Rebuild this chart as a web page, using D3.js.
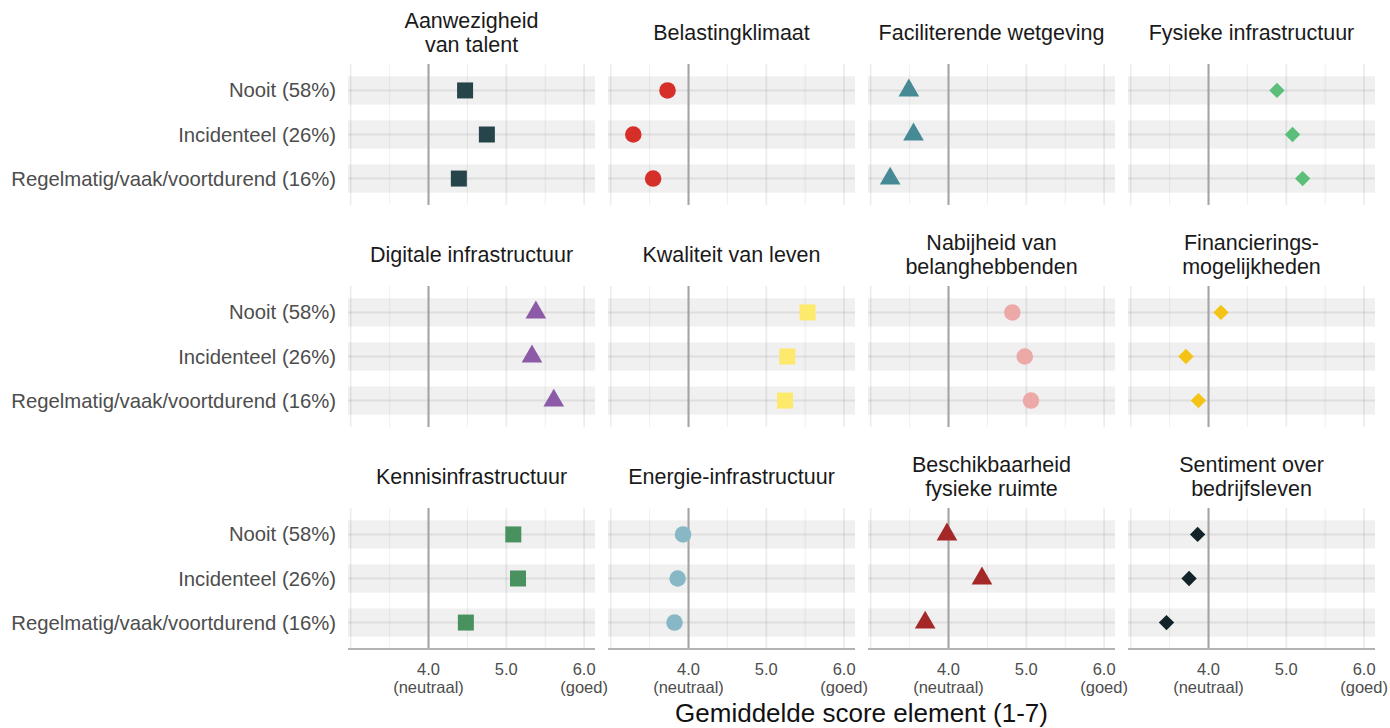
<!DOCTYPE html>
<html>
<head>
<meta charset="utf-8">
<script src="https://cdn.jsdelivr.net/npm/d3@7"></script>
<style>
  html, body { margin: 0; padding: 0; background: #fff; }
  svg { display: block; font-family: "Liberation Sans", Arial, sans-serif; }
</style>
</head>
<body>
<svg id="chart" width="1390" height="728"></svg>
<script>
// ---- data ----
const categories = ["Nooit (58%)", "Incidenteel (26%)", "Regelmatig/vaak/voortdurend (16%)"];
const elements = [
  "Aanwezigheid\nvan talent", "Belastingklimaat", "Faciliterende wetgeving", "Fysieke infrastructuur",
  "Digitale infrastructuur", "Kwaliteit van leven", "Nabijheid van\nbelanghebbenden", "Financierings-\nmogelijkheden",
  "Kennisinfrastructuur", "Energie-infrastructuur", "Beschikbaarheid\nfysieke ruimte", "Sentiment over\nbedrijfsleven"
];
const aanwezigheidVanTalent   = [4.47, 4.75, 4.39];
const belastingklimaat        = [3.73, 3.29, 3.545];
const faciliterendeWetgeving  = [3.49, 3.55, 3.25];
const fysiekeInfrastructuur   = [4.88, 5.08, 5.21];
const digitaleInfrastructuur  = [5.38, 5.33, 5.61];
const kwaliteitVanLeven       = [5.53, 5.27, 5.24];
const nabijheidBelanghebbenden= [4.82, 4.98, 5.06];
const financieringsmogelijkheden = [4.16, 3.71, 3.87];
const kennisinfrastructuur    = [5.09, 5.15, 4.48];
const energieInfrastructuur   = [3.93, 3.86, 3.82];
const beschikbaarheidRuimte   = [3.98, 4.43, 3.70];
const sentimentBedrijfsleven  = [3.86, 3.75, 3.46];
const seriesValues = [
  aanwezigheidVanTalent, belastingklimaat, faciliterendeWetgeving, fysiekeInfrastructuur,
  digitaleInfrastructuur, kwaliteitVanLeven, nabijheidBelanghebbenden, financieringsmogelijkheden,
  kennisinfrastructuur, energieInfrastructuur, beschikbaarheidRuimte, sentimentBedrijfsleven
];
const majorTicks = [3, 4, 5, 6];
const minorTicks = [3.5, 4.5, 5.5];
const tickLabels = [["4.0", "(neutraal)"], ["5.0", ""], ["6.0", "(goed)"]];
const labelledTicks = [4, 5, 6];
const xTitle = "Gemiddelde score element (1-7)";

// ---- styles ----
const colors = ["#25454b", "#d62f2a", "#468a96", "#5bbf7a",
                "#8c5ba8", "#fde96c", "#eda8a8", "#f5c316",
                "#4a9160", "#88b8c5", "#a52828", "#13232a"];
const shapes = ["square", "circle", "triangle", "diamond",
                "triangle", "square", "circle", "diamond",
                "square", "circle", "triangle", "diamond"];

// ---- layout ----
const svg = d3.select("#chart");
const colX0 = 348, colStep = 260, panelW = 247;
const rowY0 = 64, rowStep = 222, panelH = 141;

const x = d3.scaleLinear().domain([2.965, 6.14]).range([0, panelW]);
const y = d3.scalePoint().domain(categories).range([0, panelH]).padding(0.6);
const bandH = y.step() * 0.64;

function symbolPath(shape) {
  if (shape === "square") return d3.symbol(d3.symbolSquare, 256)();
  if (shape === "circle") return d3.symbol(d3.symbolCircle, 215)();
  if (shape === "triangle") return d3.symbol(d3.symbolTriangle, 185)();
  if (shape === "diamond") return d3.symbol(d3.symbolSquare, 118)();
}

elements.forEach((name, i) => {
  const col = i % 4, row = Math.floor(i / 4);
  const g = svg.append("g").attr("transform", `translate(${colX0 + col * colStep},${rowY0 + row * rowStep})`);

  // bands
  g.selectAll("rect.band").data(categories).join("rect")
    .attr("x", 0).attr("width", panelW)
    .attr("y", d => y(d) - bandH / 2).attr("height", bandH)
    .attr("fill", "#f0f0f0");

  // minor vertical grid
  g.selectAll("line.minor").data(minorTicks).join("line")
    .attr("x1", d => x(d)).attr("x2", d => x(d)).attr("y1", 0).attr("y2", panelH)
    .attr("stroke", "#000").attr("stroke-opacity", 0.055).attr("stroke-width", 1.2);
  // major vertical grid
  g.selectAll("line.major").data(majorTicks).join("line")
    .attr("x1", d => x(d)).attr("x2", d => x(d)).attr("y1", 0).attr("y2", panelH)
    .attr("stroke", "#000").attr("stroke-opacity", 0.075).attr("stroke-width", 1.7);
  // horizontal grid
  g.selectAll("line.hgrid").data(categories).join("line")
    .attr("x1", 0).attr("x2", panelW).attr("y1", d => y(d)).attr("y2", d => y(d))
    .attr("stroke", "#000").attr("stroke-opacity", 0.075).attr("stroke-width", 2);

  // neutral line
  g.append("line")
    .attr("x1", x(4)).attr("x2", x(4)).attr("y1", 0).attr("y2", panelH)
    .attr("stroke", "#a3a3a3").attr("stroke-width", 2);

  // points
  const vals = seriesValues[i];
  g.selectAll("path.pt").data(categories.map((c, k) => ({c, v: vals[k]}))).join("path")
    .attr("d", symbolPath(shapes[i]))
    .attr("transform", d => `translate(${x(d.v)},${y(d.c)})` + (shapes[i] === "diamond" ? " rotate(45)" : ""))
    .attr("fill", colors[i]);

  // strip title
  const lines = name.split("\n");
  const cy = -31, lh = 24;
  g.append("text")
    .attr("x", panelW / 2).attr("text-anchor", "middle")
    .attr("font-size", 21.5).attr("fill", "#1a1a1a")
    .selectAll("tspan").data(lines).join("tspan")
    .attr("x", panelW / 2)
    .attr("y", (d, k) => cy + (k - (lines.length - 1) / 2) * lh)
    .attr("dominant-baseline", "central")
    .text(d => d);

  // y axis labels (left column)
  if (col === 0) {
    g.selectAll("text.ylab").data(categories).join("text")
      .attr("x", -12).attr("y", d => y(d))
      .attr("text-anchor", "end").attr("dominant-baseline", "central")
      .attr("font-size", 20.3).attr("fill", "#4d4d4d")
      .text(d => d);
  }

  // x axis (bottom row)
  if (row === 2) {
    g.append("line").attr("x1", 0).attr("x2", panelW).attr("y1", panelH).attr("y2", panelH)
      .attr("stroke", "#b3b3b3").attr("stroke-width", 2);
    labelledTicks.forEach((t, k) => {
      const tx = g.append("text").attr("text-anchor", "middle").attr("font-size", 16.5).attr("fill", "#4d4d4d");
      tx.append("tspan").attr("x", x(t)).attr("y", panelH + 26).text(tickLabels[k][0]);
      if (tickLabels[k][1]) tx.append("tspan").attr("x", x(t)).attr("y", panelH + 44).text(tickLabels[k][1]);
    });
  }
});

// x axis title
svg.append("text")
  .attr("x", colX0 + (3 * colStep + panelW) / 2).attr("y", 722)
  .attr("text-anchor", "middle").attr("font-size", 26).attr("fill", "#111")
  .text(xTitle);
</script>
</body>
</html>
